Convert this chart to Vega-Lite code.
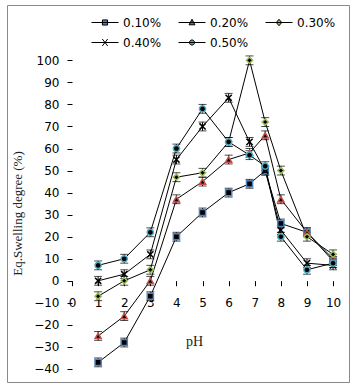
{
  "$schema": "https://vega.github.io/schema/vega-lite/v6.json",
  "width": 342,
  "height": 377,
  "autosize": {"type": "none"},
  "padding": {"left": 7, "top": 5, "right": 9, "bottom": 6},
  "background": "white",
  "config": {
    "view": {"stroke": "#8a8a8a", "strokeWidth": 1},
    "axis": {"grid": false, "labelFont": "DejaVu Sans", "labelFontSize": 12, "labelColor": "black", "tickColor": "black", "tickSize": 5, "titleFont": "Liberation Serif", "titleFontWeight": "normal", "titleColor": "#222"},
    "legend": {"orient": "none", "legendX": 84, "legendY": 3.5, "direction": "horizontal", "columns": 3, "columnPadding": 14, "rowPadding": -4, "padding": 0, "symbolSize": 729, "labelOffset": 4, "labelFont": "DejaVu Sans", "labelFontSize": 12, "labelColor": "black"}
  },
  "data": {"values": [
    {"c": "0.10%", "pH": 1, "v": -37, "e": 2}, {"c": "0.10%", "pH": 2, "v": -28, "e": 2}, {"c": "0.10%", "pH": 3, "v": -7, "e": 2}, {"c": "0.10%", "pH": 4, "v": 20, "e": 2}, {"c": "0.10%", "pH": 5, "v": 31, "e": 2}, {"c": "0.10%", "pH": 6, "v": 40, "e": 2}, {"c": "0.10%", "pH": 6.8, "v": 44, "e": 2}, {"c": "0.10%", "pH": 7.4, "v": 50, "e": 2}, {"c": "0.10%", "pH": 8, "v": 26, "e": 2}, {"c": "0.10%", "pH": 9, "v": 22, "e": 2}, {"c": "0.10%", "pH": 10, "v": 9, "e": 2},
    {"c": "0.20%", "pH": 1, "v": -25, "e": 2}, {"c": "0.20%", "pH": 2, "v": -16, "e": 2}, {"c": "0.20%", "pH": 3, "v": 0, "e": 2}, {"c": "0.20%", "pH": 4, "v": 37, "e": 2}, {"c": "0.20%", "pH": 5, "v": 45, "e": 2}, {"c": "0.20%", "pH": 6, "v": 55, "e": 2}, {"c": "0.20%", "pH": 6.8, "v": 58, "e": 2}, {"c": "0.20%", "pH": 7.4, "v": 66, "e": 2}, {"c": "0.20%", "pH": 8, "v": 37, "e": 2}, {"c": "0.20%", "pH": 9, "v": 22, "e": 2}, {"c": "0.20%", "pH": 10, "v": 10, "e": 2},
    {"c": "0.30%", "pH": 1, "v": -7, "e": 2}, {"c": "0.30%", "pH": 2, "v": 0, "e": 2}, {"c": "0.30%", "pH": 3, "v": 5, "e": 2}, {"c": "0.30%", "pH": 4, "v": 47, "e": 2}, {"c": "0.30%", "pH": 5, "v": 49, "e": 2}, {"c": "0.30%", "pH": 6, "v": 63, "e": 2}, {"c": "0.30%", "pH": 6.8, "v": 100, "e": 2}, {"c": "0.30%", "pH": 7.4, "v": 72, "e": 2}, {"c": "0.30%", "pH": 8, "v": 50, "e": 2}, {"c": "0.30%", "pH": 9, "v": 20, "e": 2}, {"c": "0.30%", "pH": 10, "v": 12, "e": 2},
    {"c": "0.40%", "pH": 1, "v": 0, "e": 2}, {"c": "0.40%", "pH": 2, "v": 3, "e": 2}, {"c": "0.40%", "pH": 3, "v": 12, "e": 2}, {"c": "0.40%", "pH": 4, "v": 55, "e": 2}, {"c": "0.40%", "pH": 5, "v": 70, "e": 2}, {"c": "0.40%", "pH": 6, "v": 83, "e": 2}, {"c": "0.40%", "pH": 6.8, "v": 63, "e": 2}, {"c": "0.40%", "pH": 7.4, "v": 50, "e": 2}, {"c": "0.40%", "pH": 8, "v": 23, "e": 2}, {"c": "0.40%", "pH": 9, "v": 8, "e": 2}, {"c": "0.40%", "pH": 10, "v": 7, "e": 2},
    {"c": "0.50%", "pH": 1, "v": 7, "e": 2}, {"c": "0.50%", "pH": 2, "v": 10, "e": 2}, {"c": "0.50%", "pH": 3, "v": 22, "e": 2}, {"c": "0.50%", "pH": 4, "v": 60, "e": 2}, {"c": "0.50%", "pH": 5, "v": 78, "e": 2}, {"c": "0.50%", "pH": 6, "v": 63, "e": 2}, {"c": "0.50%", "pH": 6.8, "v": 57, "e": 2}, {"c": "0.50%", "pH": 7.4, "v": 52, "e": 2}, {"c": "0.50%", "pH": 8, "v": 20, "e": 2}, {"c": "0.50%", "pH": 9, "v": 5, "e": 2}, {"c": "0.50%", "pH": 10, "v": 8, "e": 2}
  ]},
  "encoding": {
    "x": {"field": "pH", "type": "quantitative",
      "scale": {"domain": [-2.49, 10.61], "nice": false, "zero": false},
      "axis": {"values": [0, 1, 2, 3, 4, 5, 6, 7, 8, 9, 10], "offset": -101.3, "domain": false, "labelPadding": 12, "labelFlush": false, "labelOverlap": false, "title": "pH", "titleFontSize": 14, "titleX": 187, "titleY": 61, "titleBaseline": "middle", "titleAlign": "center"}},
    "y": {"field": "v", "type": "quantitative",
      "scale": {"domain": [-45.9, 125.1], "nice": false, "zero": false},
      "axis": {"values": [-40, -30, -20, -10, 0, 10, 20, 30, 40, 50, 60, 70, 80, 90, 100], "offset": -65, "domain": false, "labelPadding": 8, "labelFlush": false, "labelOverlap": false, "title": "Eq.Swelling degree (%)", "titleFontSize": 13, "titleX": -55, "titleY": 208, "titleAngle": 270, "titleBaseline": "middle", "titleAlign": "center"}}
  },
  "layer": [
    {
      "mark": {"type": "line", "color": "black", "strokeWidth": 1},
      "encoding": {"detail": {"field": "c"}}
    },
    {
      "data": {"values": [{}]},
      "mark": {"type": "rule", "color": "black", "strokeWidth": 1},
      "encoding": {"x": {"datum": 0, "type": "quantitative", "title": "pH"}, "x2": {"datum": 10}, "y": {"datum": 0, "type": "quantitative", "title": "Eq.Swelling degree (%)"}}
    },
    {
      "data": {"values": [{}]},
      "mark": {"type": "rule", "color": "black", "strokeWidth": 1},
      "encoding": {"x": {"datum": 0, "type": "quantitative", "title": "pH"}, "y": {"datum": -40, "type": "quantitative", "title": "Eq.Swelling degree (%)"}, "y2": {"datum": 100}}
    },
    {
      "mark": {"type": "errorbar", "color": "black", "ticks": {"size": 8, "color": "black"}},
      "encoding": {
        "yError": {"field": "e"},
        "detail": {"field": "c"}
      }
    },
    {
      "mark": {"type": "point", "filled": false, "fill": "black", "fillOpacity": 1, "opacity": 1, "strokeWidth": 1.5, "size": 38},
      "encoding": {
        "shape": {"field": "c", "type": "nominal", "legend": null,
          "scale": {"range": ["square", "triangle-up", "diamond", "M-1,-1L1,1M-1,1L1,-1", "circle"]}},
        "stroke": {"field": "c", "type": "nominal", "legend": null,
          "scale": {"range": ["#4F81BD", "#C0504D", "#9BBB59", "#000000", "#4BACC6"]}}
      }
    },
    {
      "mark": {"type": "point", "filled": true, "opacity": 0, "size": 1},
      "encoding": {
        "fill": {"field": "c", "type": "nominal", "title": null,
          "scale": {"domain": ["0.10%", "0.20%", "0.30%", "0.40%", "0.50%"], "range": ["#4F81BD", "#C0504D", "#9BBB59", "#000000", "#4BACC6"]},
          "legend": {
            "encode": {"symbols": {"update": {
              "shape": {"signal": "datum.value === '0.10%' ? 'M-1,0H1M-0.19,-0.19H0.19V0.19H-0.19Z' : datum.value === '0.20%' ? 'M-1,0H1M0,-0.24L0.22,0.17H-0.22Z' : datum.value === '0.30%' ? 'M-1,0H1M0,-0.24L0.2,0L0,0.24L-0.2,0Z' : datum.value === '0.40%' ? 'M-1,0H1M-0.2,-0.26L0.2,0.26M-0.2,0.26L0.2,-0.26' : 'M-1,0H1M-0.19,0A0.19,0.19 0 1,0 0.19,0A0.19,0.19 0 1,0 -0.19,0Z'"},
              "stroke": {"value": "black"},
              "strokeWidth": {"value": 1},
              "opacity": {"value": 1},
              "fillOpacity": {"value": 1},
              "strokeOpacity": {"value": 1}
            }}}}}
      }
    }
  ]
}
